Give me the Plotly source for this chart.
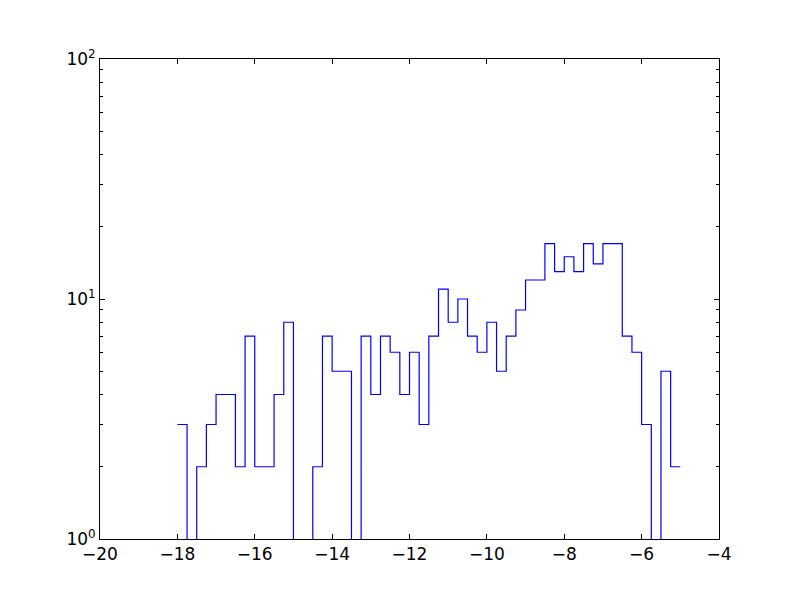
import plotly.graph_objects as go

bin_start = -18.0
bin_width = 0.25
counts = [3, 0, 2, 3, 4, 4, 2, 7, 2, 2, 4, 8, 0, 0, 2, 7, 5, 5, 0, 7,
          4, 7, 6, 4, 6, 3, 7, 11, 8, 10, 7, 6, 8, 5, 7, 9, 12, 12, 17, 13,
          15, 13, 17, 14, 17, 17, 7, 6, 3, 0, 5, 2]
x_tick_vals = [-20, -18, -16, -14, -12, -10, -8, -6, -4]
x_tick_text = ["\u221220", "\u221218", "\u221216", "\u221214", "\u221212",
               "\u221210", "\u22128", "\u22126", "\u22124"]
y_tick_vals = [1, 10, 100]
y_tick_text = ["10<sup>0</sup>", "10<sup>1</sup>", "10<sup>2</sup>"]
y_minor = [v * d for d in (1, 10) for v in range(2, 10)]

n = len(counts)
edges = [bin_start + i * bin_width for i in range(n + 1)]
floor = 0.01
ys = [c if c > 0 else floor for c in counts]
xs = edges
ys = ys + [ys[-1]]

fig = go.Figure()
fig.add_trace(go.Scatter(x=xs, y=ys, mode="lines", line_shape="hv",
                         line=dict(color="#0000ff", width=1.2),
                         hoverinfo="skip", showlegend=False))

fig.update_layout(
    width=792, height=592,
    margin=dict(l=92, r=81, t=51, b=61),
    paper_bgcolor="white", plot_bgcolor="white",
    font=dict(family="DejaVu Sans", size=17, color="black"),
    showlegend=False,
)
fig.update_xaxes(range=[-20, -4], tickmode="array", tickvals=x_tick_vals,
                 ticktext=x_tick_text, ticks="inside", ticklen=5,
                 tickcolor="black", showline=True, linecolor="black",
                 linewidth=1, mirror="allticks", showgrid=False,
                 zeroline=False, tickfont=dict(family="DejaVu Sans", size=17))
fig.update_yaxes(type="log", range=[0, 2], tickmode="array",
                 tickvals=y_tick_vals, ticktext=y_tick_text,
                 ticks="inside", ticklen=5, tickcolor="black",
                 minor=dict(tickvals=y_minor, ticks="inside", ticklen=3,
                            tickcolor="black"),
                 showline=True, linecolor="black", linewidth=1,
                 mirror="allticks", showgrid=False, zeroline=False,
                 tickfont=dict(family="DejaVu Sans", size=17))

fig.write_html("out.html")
